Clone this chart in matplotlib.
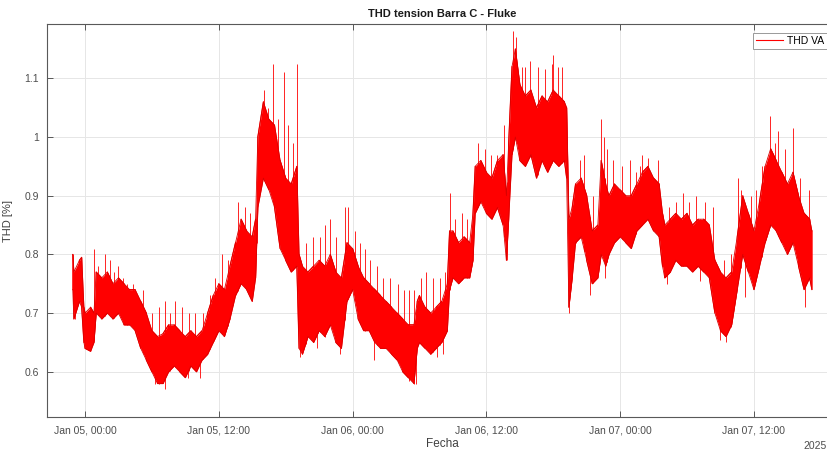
import numpy as np
import pandas as pd
import matplotlib
matplotlib.use("Agg")
import matplotlib.pyplot as plt
import matplotlib.dates as mdates
from matplotlib.ticker import FuncFormatter

# ---- data (hours since 2025-01-05 00:00), band low / high of the THD trace ----
hours = [-1.1, -1.0, -0.5, -0.3, -0.1, 0.0, 0.5, 0.8, 1.0, 1.5, 2.0, 2.5, 3.0, 3.5, 4.0,
         4.5, 5.0, 5.5, 6.0, 6.5, 7.0, 7.5, 8.0, 8.5, 9.0, 9.5, 10.0, 10.5, 11.0, 11.5,
         12.0, 12.5, 13.0, 13.5, 14.0, 14.5, 15.0, 15.3, 15.5, 16.0, 16.5, 17.0, 17.5,
         18.0, 18.5, 19.0, 19.2, 19.5, 20.0, 20.5, 21.0, 21.5, 22.0, 22.5, 23.0, 23.5,
         24.0, 24.5, 25.0, 25.5, 26.0, 26.5, 27.0, 27.5, 28.0, 28.5, 29.0, 29.5, 29.8,
         30.0, 30.5, 31.0, 31.5, 32.0, 32.5, 32.7, 33.0, 33.5, 34.0, 34.5, 34.8, 35.0,
         35.5, 36.0, 36.5, 37.0, 37.5, 37.8, 38.0, 38.3, 38.6, 39.0, 39.5, 40.0, 40.5,
         41.0, 41.5, 42.0, 42.5, 43.0, 43.2, 43.4, 43.7, 44.0, 44.5, 45.0, 45.5, 46.0,
         46.3, 46.7, 47.0, 47.5, 48.0, 48.5, 49.0, 49.5, 50.0, 50.5, 51.0, 51.5, 51.8,
         52.0, 52.5, 53.0, 53.5, 54.0, 54.5, 55.0, 55.5, 56.0, 56.5, 57.0, 57.5, 58.0,
         58.5, 59.0, 59.5, 60.0, 60.5, 61.0, 61.5, 62.0, 62.5, 63.0, 63.5, 64.0, 64.5,
         65.0, 65.2]
thd_low = [0.74, 0.69, 0.72, 0.71, 0.65, 0.64, 0.635, 0.65, 0.70, 0.69, 0.70, 0.69, 0.70,
           0.68, 0.68, 0.67, 0.64, 0.62, 0.60, 0.58, 0.58, 0.60, 0.61, 0.60, 0.59, 0.61,
           0.60, 0.62, 0.63, 0.65, 0.67, 0.66, 0.69, 0.73, 0.75, 0.74, 0.72, 0.76, 0.88,
           0.93, 0.91, 0.88, 0.81, 0.79, 0.77, 0.78, 0.64, 0.63, 0.66, 0.65, 0.67, 0.66,
           0.68, 0.65, 0.64, 0.72, 0.74, 0.69, 0.67, 0.67, 0.65, 0.64, 0.64, 0.63, 0.62,
           0.60, 0.59, 0.58, 0.64, 0.65, 0.64, 0.63, 0.64, 0.65, 0.67, 0.74, 0.76, 0.75,
           0.76, 0.76, 0.79, 0.87, 0.89, 0.87, 0.86, 0.88, 0.85, 0.79, 0.86, 0.97, 1.00,
           0.96, 0.95, 0.97, 0.93, 0.96, 0.94, 0.96, 0.95, 0.96, 0.93, 0.71, 0.76, 0.82,
           0.83, 0.79, 0.75, 0.76, 0.80, 0.78, 0.80, 0.82, 0.83, 0.82, 0.81, 0.84, 0.85,
           0.86, 0.84, 0.83, 0.78, 0.76, 0.77, 0.79, 0.78, 0.78, 0.77, 0.78, 0.77, 0.76,
           0.70, 0.67, 0.66, 0.68, 0.74, 0.80, 0.77, 0.74, 0.78, 0.82, 0.85, 0.84, 0.82,
           0.80, 0.82, 0.78, 0.74, 0.76, 0.74]
thd_high = [0.80, 0.77, 0.79, 0.795, 0.71, 0.70, 0.71, 0.70, 0.77, 0.76, 0.77, 0.75, 0.76,
            0.75, 0.74, 0.74, 0.72, 0.70, 0.67, 0.66, 0.665, 0.68, 0.68, 0.67, 0.66, 0.67,
            0.66, 0.67, 0.70, 0.73, 0.75, 0.74, 0.78, 0.82, 0.86, 0.84, 0.83, 0.86, 1.00,
            1.06, 1.03, 1.02, 0.96, 0.93, 0.92, 0.95, 0.80, 0.78, 0.77, 0.78, 0.79, 0.78,
            0.80, 0.77, 0.76, 0.82, 0.81, 0.78, 0.76, 0.75, 0.74, 0.73, 0.72, 0.71, 0.70,
            0.69, 0.68, 0.68, 0.72, 0.73, 0.71, 0.70, 0.71, 0.72, 0.75, 0.84, 0.84, 0.82,
            0.83, 0.82, 0.87, 0.95, 0.96, 0.94, 0.93, 0.96, 0.97, 0.90, 0.99, 1.12, 1.15,
            1.09, 1.07, 1.08, 1.05, 1.07, 1.06, 1.08, 1.07, 1.06, 1.05, 0.86, 0.88, 0.92,
            0.93, 0.90, 0.84, 0.85, 0.96, 0.92, 0.90, 0.92, 0.91, 0.90, 0.90, 0.92, 0.94,
            0.95, 0.93, 0.92, 0.87, 0.85, 0.86, 0.87, 0.86, 0.87, 0.85, 0.86, 0.86, 0.85,
            0.79, 0.77, 0.76, 0.77, 0.83, 0.90, 0.87, 0.84, 0.89, 0.95, 0.98, 0.96, 0.94,
            0.92, 0.94, 0.90, 0.87, 0.86, 0.84]

# upward spikes (hour, value)
spike_hours = [-1.05, 0.81, 1.2, 1.79, 2.24, 2.6, 2.96, 3.4, 3.77, 4.3, 5.2, 6.0, 6.6,
               7.17, 7.6, 8.07, 8.7, 9.3, 9.87, 10.6, 11.2, 11.7, 12.3, 12.8, 13.3, 13.7,
               14.35, 14.8, 15.4, 16.05, 16.4, 16.86, 17.3, 17.85, 18.2, 18.65, 19.0, 19.8,
               20.45, 21.1, 21.5, 22.0, 22.5, 23.3, 23.6, 24.2, 24.7, 25.1, 25.6, 26.2,
               26.7, 27.4, 28.1, 28.6, 29.1, 29.5, 30.1, 30.6, 31.2, 31.8, 32.3, 32.7, 33.2,
               33.8, 34.3, 35.25, 35.9, 36.4, 36.95, 37.6, 38.4, 38.66, 39.2, 39.5, 39.9,
               40.6, 41.3, 41.9, 42.0, 42.4, 42.8, 44.0, 44.4, 44.8, 45.6, 46.3, 46.55,
               46.8, 47.4, 48.2, 48.9, 49.4, 49.8, 50.0, 50.5, 51.4, 52.4, 53.0, 53.6, 54.2,
               54.8, 55.6, 56.3, 57.3, 57.9, 58.6, 58.8, 59.7, 60.2, 60.7, 61.45, 61.9,
               62.2, 62.8, 63.5, 64.1, 64.9]
spike_vals = [0.80, 0.81, 0.78, 0.80, 0.79, 0.77, 0.78, 0.76, 0.75, 0.75, 0.74, 0.70, 0.71,
              0.72, 0.70, 0.72, 0.71, 0.70, 0.70, 0.70, 0.73, 0.76, 0.80, 0.79, 0.80, 0.89,
              0.88, 0.87, 0.90, 1.08, 1.05, 1.125, 1.03, 1.11, 1.02, 0.99, 1.125, 0.82,
              0.83, 0.83, 0.85, 0.86, 0.83, 0.88, 0.88, 0.84, 0.82, 0.81, 0.79, 0.78,
              0.76, 0.76, 0.75, 0.74, 0.74, 0.74, 0.76, 0.77, 0.76, 0.76, 0.77, 0.905,
              0.86, 0.87, 0.86, 0.99, 0.98, 0.97, 0.97, 1.02, 1.18, 1.17, 1.12, 1.12, 1.13,
              1.12, 1.115, 1.125, 1.14, 1.12, 1.12, 0.92, 0.96, 0.97, 0.90, 1.03, 1.00,
              0.98, 0.96, 0.95, 0.96, 0.94, 0.95, 0.97, 0.965, 0.96, 0.88, 0.89, 0.905,
              0.89, 0.90, 0.89, 0.88, 0.79, 0.80, 0.93, 0.91, 0.90, 0.91, 0.95, 1.035,
              0.99, 1.01, 0.98, 1.015, 0.93, 0.91]

# downward dips (hour, value)
dip_hours = [-0.9, 0.45, 5.4, 6.3, 7.2, 9.2, 10.3, 19.3, 20.8, 22.9, 25.9, 29.1, 29.7,
             31.6, 32.1, 37.85, 43.4, 45.3, 46.6, 52.2, 55.2, 57.0, 57.5, 59.2, 64.6]
dip_vals = [0.69, 0.637, 0.645, 0.58, 0.57, 0.59, 0.59, 0.625, 0.64, 0.63, 0.62, 0.585,
            0.58, 0.625, 0.63, 0.79, 0.70, 0.73, 0.76, 0.75, 0.755, 0.655, 0.65, 0.727,
            0.71]

xtick_labels = ["Jan 05, 00:00", "Jan 05, 12:00", "Jan 06, 00:00",
                "Jan 06, 12:00", "Jan 07, 00:00", "Jan 07, 12:00"]
yticks = [0.6, 0.7, 0.8, 0.9, 1.0, 1.1]

# ---- build ----
base = pd.Timestamp("2025-01-05 00:00")
def to_dt(h):
    return mdates.date2num(base + pd.to_timedelta(np.asarray(h, float), unit="h"))

t = to_dt(hours)
lo = np.array(thd_low)
hi = np.array(thd_high)

# zig-zag trace through the band: lo, hi, hi, lo, lo, hi ...
zx = np.repeat(t, 2)
zy = np.empty(2 * len(t))
for i in range(len(t)):
    if i % 2 == 0:
        zy[2 * i], zy[2 * i + 1] = lo[i], hi[i]
    else:
        zy[2 * i], zy[2 * i + 1] = hi[i], lo[i]

plt.rcParams['font.family'] = ['Liberation Sans', 'DejaVu Sans']
fig = plt.figure(figsize=(8.28, 4.53), dpi=100)
W, H = 828, 453
ax = fig.add_axes([47 / W, 1 - 417 / H, (838 - 47) / W, (417 - 24.3) / H])

red = (1, 0, 0)
ax.fill_between(t, lo, hi, color=red, lw=0, zorder=3)
line, = ax.plot(zx, zy, color=red, lw=0.8, zorder=3, label="THD VA")

st = to_dt(spike_hours)
ax.vlines(st, np.interp(st, t, lo), spike_vals, color=red, lw=0.6, zorder=3)
dt_ = to_dt(dip_hours)
ax.vlines(dt_, dip_vals, np.interp(dt_, t, hi), color=red, lw=0.6, zorder=3)
# darker outline of the band
ax.plot(t, hi, color=(0.85, 0, 0), lw=0.6, zorder=3)
ax.plot(t, lo, color=(0.85, 0, 0), lw=0.6, zorder=3)

xt = to_dt([0, 12, 24, 36, 48, 60])
ax.set_xticks(xt)
ax.set_xticklabels(xtick_labels)
ax.set_xlim(to_dt([-3.41])[0], to_dt([67.54])[0])
ax.set_ylim(0.523, 1.192)
ax.set_yticks(yticks)
ax.yaxis.set_major_formatter(FuncFormatter(lambda v, p: f"{v:g}"))

ax.grid(True, color=(0.9, 0.9, 0.9), lw=0.7, zorder=0)
ax.set_axisbelow(True)
ax.tick_params(direction="in", length=4, width=0.6, colors=(0.25, 0.25, 0.25),
               labelsize=7.5, top=True, right=True, labelcolor=(0.3, 0.3, 0.3), pad=6)
for s in ax.spines.values():
    s.set_color((0.35, 0.35, 0.35))
    s.set_linewidth(0.8)

ax.set_title("THD tension Barra C - Fluke", fontsize=8, fontweight="bold", pad=5,
             color=(0.1, 0.1, 0.1))
ax.set_xlabel("Fecha", fontsize=8.5, color=(0.25, 0.25, 0.25), labelpad=2)
ax.set_ylabel("THD [%]", fontsize=8, color=(0.25, 0.25, 0.25), labelpad=8)
fig.text(827 / W, 1 - 446 / H, "2025", ha="right", va="center", fontsize=7.5,
         color=(0.3, 0.3, 0.3))

leg = ax.legend(handles=[line], loc="upper left", bbox_to_anchor=(753 / W, 1 - 32.7 / H),
                bbox_transform=fig.transFigure, fontsize=7.5, frameon=True, fancybox=False,
                edgecolor=(0.6, 0.6, 0.6), framealpha=1, borderaxespad=0, borderpad=0.3,
                handlelength=2.6, handletextpad=0.35)
leg.get_frame().set_linewidth(0.7)

fig.savefig("out.png", dpi=100)
